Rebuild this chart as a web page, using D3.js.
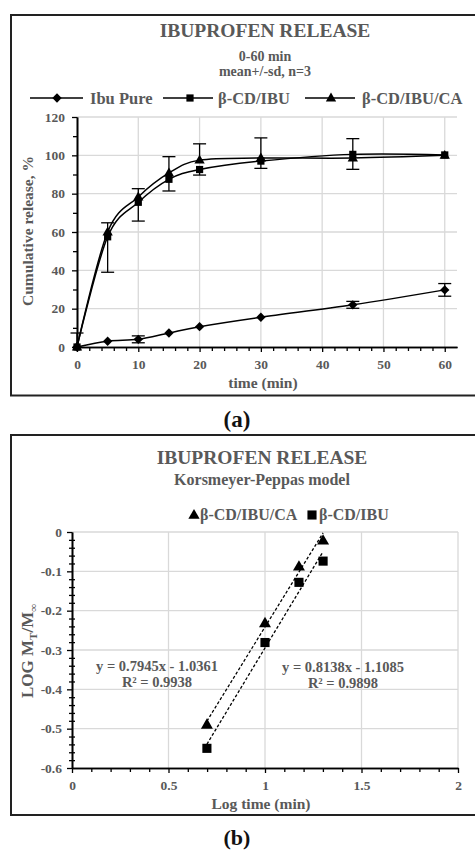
<!DOCTYPE html>
<html>
<head>
<meta charset="utf-8">
<script src="https://cdn.jsdelivr.net/npm/d3@7/dist/d3.min.js"></script>
<style>
  html, body { margin: 0; padding: 0; background: #fff; }
  svg { display: block; }
  text { font-family: "Liberation Serif", "Times New Roman", serif; }
</style>
</head>
<body>
<svg id="chart" width="475" height="852"></svg>
<script>
// ---- Panel (a): cumulative release, 0-60 min ----
const times = [0, 5, 10, 15, 20, 30, 45, 60];
const ibuPure = [0, 3, 4, 7.3, 10.6, 15.5, 22, 29.8];
const cdIbu = [0, 57.5, 75.5, 87.5, 92.6, 97, 100.5, 100.2];
const cdIbuCa = [0, 60, 78.3, 90.8, 97.5, 98.6, 98.6, 100];
// standard deviations drawn as error bars (upper / lower arms)
const ibuPureSd = [0, 0, 1.8, 0, 0, 0, 1.8, 3.3];
const cdIbuSdUp = [0, 0, 0, 0, 0, 0, 8.2, 0];
const cdIbuSdDown = [0, 18.5, 9.8, 6.1, 2.9, 3.8, 0, 0];
const cdIbuCaSdUp = [7.3, 4.8, 4.3, 8.5, 8.5, 10.5, 0, 0];
const cdIbuCaSdDown = [0, 0, 0, 0, 0, 0, 5.9, 0];
const seriesNames = ["Ibu Pure", "β-CD/IBU", "β-CD/IBU/CA"];
const releaseTicksY = [0, 20, 40, 60, 80, 100, 120];
const releaseTicksX = [0, 10, 20, 30, 40, 50, 60];

// ---- Panel (b): Korsmeyer-Peppas model ----
const logTime = [0.699, 1, 1.176, 1.301];
const kpCdIbuCa = [-0.49, -0.232, -0.088, -0.022];
const kpCdIbu = [-0.55, -0.281, -0.128, -0.074];
const fitCdIbuCa = { slope: 0.7945, intercept: -1.0361, r2: "0.9938" };
const fitCdIbu = { slope: 0.8138, intercept: -1.1085, r2: "0.9898" };
const kpTicksY = [0, -0.1, -0.2, -0.3, -0.4, -0.5, -0.6];
const kpTicksX = [0, 0.5, 1, 1.5, 2];

const GRAY = "#595959";
const GRID = "#d9d9d9";
const FONT = "Liberation Serif, Times New Roman, serif";
const svg = d3.select("#chart");

function sym(type, size) { return d3.symbol().type(type).size(size)(); }
function marker(g, kind, x, y, scale) {
  scale = scale || 1;
  if (kind === "diamond") {
    g.append("path").attr("d", sym(d3.symbolSquare, 44 * scale))
      .attr("transform", `translate(${x},${y}) rotate(45)`).attr("fill", "#000");
  } else if (kind === "square") {
    g.append("path").attr("d", sym(d3.symbolSquare, 52 * scale))
      .attr("transform", `translate(${x},${y})`).attr("fill", "#000");
  } else {
    g.append("path").attr("d", sym(d3.symbolTriangle, 46 * scale))
      .attr("transform", `translate(${x},${y + 0.5})`).attr("fill", "#000");
  }
}
function styleAxis(g, fontSize) {
  g.attr("font-family", FONT);
  g.selectAll("path.domain").attr("stroke", "#000").attr("stroke-width", 1.6);
  g.selectAll(".tick line").attr("stroke", "#000").attr("stroke-width", 1.3);
  g.selectAll(".tick text").attr("fill", GRAY).attr("font-size", fontSize)
    .attr("font-weight", "bold").attr("font-family", FONT);
}

// ================= Panel (a) =================
svg.append("rect").attr("x", 11).attr("y", 15).attr("width", 480).attr("height", 380.5)
  .attr("fill", "none").attr("stroke", "#222").attr("stroke-width", 2);

const xa = d3.scaleLinear().domain([0, 62]).range([77, 457]);
const ya = d3.scaleLinear().domain([0, 120]).range([347, 117]);
const ga = svg.append("g");

// grid
ga.append("g").selectAll("line").data(releaseTicksY.slice(1)).join("line")
  .attr("x1", xa(0)).attr("x2", xa(62)).attr("y1", d => ya(d)).attr("y2", d => ya(d))
  .attr("stroke", GRID).attr("stroke-width", 1.3);
ga.append("g").selectAll("line").data(releaseTicksX.slice(1)).join("line")
  .attr("x1", d => xa(d)).attr("x2", d => xa(d)).attr("y1", ya(0)).attr("y2", ya(120))
  .attr("stroke", GRID).attr("stroke-width", 1.3);

// axes
const axYaMinor = ga.append("g").attr("transform", `translate(${xa(0)},0)`)
  .call(d3.axisLeft(ya).tickValues(d3.range(10, 120, 20)).tickSize(4).tickFormat("").tickSizeOuter(0));
styleAxis(axYaMinor, 13.5);
const axYa = ga.append("g").attr("transform", `translate(${xa(0)},0)`)
  .call(d3.axisLeft(ya).tickValues(releaseTicksY).tickSize(5).tickPadding(7).tickSizeOuter(0));
styleAxis(axYa, 13.5);
const axXaMinor = ga.append("g").attr("transform", `translate(0,${ya(0)})`)
  .call(d3.axisBottom(xa).tickValues(d3.range(2, 62, 2).filter(v => v % 10 !== 0)).tickSize(4).tickFormat("").tickSizeOuter(0));
styleAxis(axXaMinor, 13.5);
const axXa = ga.append("g").attr("transform", `translate(0,${ya(0)})`)
  .call(d3.axisBottom(xa).tickValues(releaseTicksX).tickSize(5).tickPadding(7).tickSizeOuter(0));
styleAxis(axXa, 13.5);

// smoothed series lines
const lineA = d3.line().x(d => xa(d[0])).y(d => ya(d[1])).curve(d3.curveCardinal.tension(0));
const seriesA = [
  { vals: ibuPure, up: ibuPureSd, down: ibuPureSd, kind: "diamond" },
  { vals: cdIbu, up: cdIbuSdUp, down: cdIbuSdDown, kind: "square" },
  { vals: cdIbuCa, up: cdIbuCaSdUp, down: cdIbuCaSdDown, kind: "triangle" }
];
seriesA.forEach(s => {
  ga.append("path").attr("d", lineA(times.map((t, i) => [t, s.vals[i]])))
    .attr("fill", "none").attr("stroke", "#000").attr("stroke-width", 1.5);
});
// error bars
seriesA.forEach(s => {
  times.forEach((t, i) => {
    const cx = xa(t);
    [[s.up[i], 1], [s.down[i], -1]].forEach(([e, dir]) => {
      if (!e) return;
      const y0 = ya(s.vals[i]), y1 = ya(s.vals[i] + dir * e);
      ga.append("line").attr("x1", cx).attr("x2", cx).attr("y1", y0).attr("y2", y1)
        .attr("stroke", "#000").attr("stroke-width", 1.3);
      ga.append("line").attr("x1", cx - 6.5).attr("x2", cx + 6.5).attr("y1", y1).attr("y2", y1)
        .attr("stroke", "#000").attr("stroke-width", 1.3);
    });
  });
});
// markers
seriesA.forEach(s => {
  times.forEach((t, i) => marker(ga, s.kind, xa(t), ya(s.vals[i])));
});

// titles
ga.append("text").attr("x", 265).attr("y", 37).attr("text-anchor", "middle")
  .attr("font-size", 19.5).attr("font-weight", "bold").attr("fill", GRAY).text("IBUPROFEN RELEASE");
ga.append("text").attr("x", 265).attr("y", 61).attr("text-anchor", "middle")
  .attr("font-size", 14).attr("font-weight", "bold").attr("fill", GRAY).text("0-60 min");
ga.append("text").attr("x", 265).attr("y", 76).attr("text-anchor", "middle")
  .attr("font-size", 14).attr("font-weight", "bold").attr("fill", GRAY).text("mean+/-sd, n=3");

// legend
const legendA = [
  { x1: 30, x2: 83, mx: 57, tx: 90, kind: "diamond" },
  { x1: 163, x2: 213, mx: 190, tx: 218, kind: "square" },
  { x1: 305, x2: 355, mx: 331, tx: 362, kind: "triangle" }
];
legendA.forEach((l, i) => {
  ga.append("line").attr("x1", l.x1).attr("x2", l.x2).attr("y1", 98).attr("y2", 98)
    .attr("stroke", "#000").attr("stroke-width", 1.5);
  marker(ga, l.kind, l.mx, 98);
  ga.append("text").attr("x", l.tx).attr("y", 103.5).attr("font-size", 16.5)
    .attr("font-weight", "bold").attr("fill", GRAY).text(seriesNames[i]);
});

// axis titles
ga.append("text").attr("transform", "translate(33,231) rotate(-90)").attr("text-anchor", "middle")
  .attr("font-size", 15.5).attr("font-weight", "bold").attr("fill", GRAY).text("Cumulative release, %");
ga.append("text").attr("x", 263).attr("y", 388).attr("text-anchor", "middle")
  .attr("font-size", 15.5).attr("font-weight", "bold").attr("fill", GRAY).text("time (min)");

svg.append("text").attr("x", 237).attr("y", 427).attr("text-anchor", "middle")
  .attr("font-size", 23).attr("font-weight", "bold").attr("fill", "#111").text("(a)");

// ================= Panel (b) =================
svg.append("rect").attr("x", 11).attr("y", 435).attr("width", 480).attr("height", 380)
  .attr("fill", "none").attr("stroke", "#222").attr("stroke-width", 2);

const xb = d3.scaleLinear().domain([0, 2]).range([72, 458]);
const yb = d3.scaleLinear().domain([-0.6, 0]).range([768, 532]);
const gb = svg.append("g");

gb.append("g").selectAll("line").data(kpTicksY.filter(v => v !== -0.6)).join("line")
  .attr("x1", xb(0)).attr("x2", xb(2)).attr("y1", d => yb(d)).attr("y2", d => yb(d))
  .attr("stroke", GRID).attr("stroke-width", 1.3);
gb.append("g").selectAll("line").data(kpTicksX.slice(1)).join("line")
  .attr("x1", d => xb(d)).attr("x2", d => xb(d)).attr("y1", yb(-0.6)).attr("y2", yb(0))
  .attr("stroke", GRID).attr("stroke-width", 1.3);

const fmtB = d => (d === 0 ? "0" : d.toFixed(1));
const fmtBx = d => String(d);
const axYbMinor = gb.append("g").attr("transform", `translate(${xb(0)},0)`)
  .call(d3.axisLeft(yb).tickValues(d3.range(1, 30).map(i => -i * 0.02).filter(v => Math.abs(v * 10 - Math.round(v * 10)) > 1e-6))
    .tickSize(3).tickFormat("").tickSizeOuter(0));
styleAxis(axYbMinor, 13.5);
axYbMinor.selectAll(".tick line").attr("x1", 3);
const axYb = gb.append("g").attr("transform", `translate(${xb(0)},0)`)
  .call(d3.axisLeft(yb).tickValues(kpTicksY).tickSize(5).tickPadding(5).tickFormat(fmtB).tickSizeOuter(0));
styleAxis(axYb, 13.5);
const axXbMinor = gb.append("g").attr("transform", `translate(0,${yb(-0.6)})`)
  .call(d3.axisBottom(xb).tickValues(d3.range(1, 20).map(i => i / 10).filter(v => Math.abs(v * 2 - Math.round(v * 2)) > 1e-6))
    .tickSize(4).tickFormat("").tickSizeOuter(0));
styleAxis(axXbMinor, 13.5);
const axXb = gb.append("g").attr("transform", `translate(0,${yb(-0.6)})`)
  .call(d3.axisBottom(xb).tickValues(kpTicksX).tickSize(5).tickPadding(7).tickFormat(fmtBx).tickSizeOuter(0));
styleAxis(axXb, 13.5);

// linear trendlines over the data range
[fitCdIbuCa, fitCdIbu].forEach(f => {
  const xs = d3.extent(logTime);
  gb.append("line")
    .attr("x1", xb(xs[0])).attr("y1", yb(f.slope * xs[0] + f.intercept))
    .attr("x2", xb(xs[1])).attr("y2", yb(f.slope * xs[1] + f.intercept))
    .attr("stroke", "#000").attr("stroke-width", 1.3).attr("stroke-dasharray", "3,2");
});
logTime.forEach((t, i) => {
  marker(gb, "triangle", xb(t), yb(kpCdIbuCa[i]), 1.35);
  marker(gb, "square", xb(t), yb(kpCdIbu[i]), 1.6);
});

// equations
const eq = (f) => `y = ${f.slope}x - ${Math.abs(f.intercept).toFixed(4)}`;
[[fitCdIbuCa, 157, 671], [fitCdIbu, 343, 672]].forEach(([f, x, y]) => {
  gb.append("text").attr("x", x).attr("y", y).attr("text-anchor", "middle")
    .attr("font-size", 14.5).attr("font-weight", "bold").attr("fill", GRAY).text(eq(f));
  gb.append("text").attr("x", x).attr("y", y + 16).attr("text-anchor", "middle")
    .attr("font-size", 14.5).attr("font-weight", "bold").attr("fill", GRAY).text(`R² = ${f.r2}`);
});

gb.append("text").attr("x", 262).attr("y", 464).attr("text-anchor", "middle")
  .attr("font-size", 19.5).attr("font-weight", "bold").attr("fill", GRAY).text("IBUPROFEN RELEASE");
gb.append("text").attr("x", 262).attr("y", 485).attr("text-anchor", "middle")
  .attr("font-size", 16).attr("font-weight", "bold").attr("fill", GRAY).text("Korsmeyer-Peppas model");

// legend
marker(gb, "triangle", 194, 515, 1.2);
gb.append("text").attr("x", 200).attr("y", 520).attr("font-size", 16)
  .attr("font-weight", "bold").attr("fill", GRAY).text(seriesNames[2]);
marker(gb, "square", 312, 515, 1.6);
gb.append("text").attr("x", 319).attr("y", 520).attr("font-size", 16)
  .attr("font-weight", "bold").attr("fill", GRAY).text(seriesNames[1]);

// axis titles
const yt = gb.append("text").attr("transform", "translate(33,651) rotate(-90)").attr("text-anchor", "middle")
  .attr("font-size", 17).attr("font-weight", "bold").attr("fill", GRAY);
yt.append("tspan").text("LOG M");
yt.append("tspan").attr("font-size", 11).attr("dy", 4).text("T");
yt.append("tspan").attr("dy", -4).text("/M");
yt.append("tspan").attr("font-size", 11).attr("dy", 4).text("∞");
gb.append("text").attr("x", 261).attr("y", 809).attr("text-anchor", "middle")
  .attr("font-size", 15.5).attr("font-weight", "bold").attr("fill", GRAY).text("Log time (min)");

svg.append("text").attr("x", 237).attr("y", 845).attr("text-anchor", "middle")
  .attr("font-size", 22).attr("font-weight", "bold").attr("fill", "#111").text("(b)");
</script>
</body>
</html>
